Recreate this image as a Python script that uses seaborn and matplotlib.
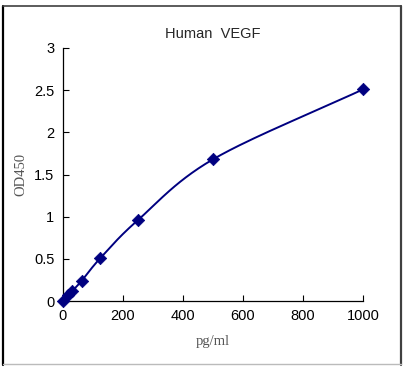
"""Human VEGF standard curve"""
import numpy as np
import pandas as pd
import matplotlib
matplotlib.use('Agg')
import matplotlib.pyplot as plt
import seaborn as sns
from matplotlib.lines import Line2D

concentration = [0, 15.6, 31.25, 62.5, 125, 250, 500, 1000]
od450 = [0.0, 0.07, 0.12, 0.24, 0.51, 0.96, 1.68, 2.51]
x_ticks = [0, 200, 400, 600, 800, 1000]
y_ticks = [0, 0.5, 1, 1.5, 2, 2.5, 3]
y_tick_labels = ['0', '0.5', '1', '1.5', '2', '2.5', '3']

NAVY = '#000080'
W, H = 408, 369


def smooth_curve(x, y, n=30):
    # Catmull-Rom style smoothing, like a spreadsheet "smoothed line"
    x = np.asarray(x, float)
    y = np.asarray(y, float)
    px = np.concatenate([[2 * x[0] - x[1]], x, [2 * x[-1] - x[-2]]])
    py = np.concatenate([[2 * y[0] - y[1]], y, [2 * y[-1] - y[-2]]])
    xs, ys = [], []
    t = np.linspace(0, 1, n)
    for i in range(1, len(px) - 2):
        for arr, out in ((px, xs), (py, ys)):
            p0, p1, p2, p3 = arr[i - 1], arr[i], arr[i + 1], arr[i + 2]
            out.append(0.5 * (2 * p1 + (-p0 + p2) * t
                              + (2 * p0 - 5 * p1 + 4 * p2 - p3) * t ** 2
                              + (-p0 + 3 * p1 - 3 * p2 + p3) * t ** 3))
    return np.concatenate(xs), np.concatenate(ys)


sns.set_style('white')
plt.rcParams['font.family'] = ['Liberation Sans', 'DejaVu Sans']

df = pd.DataFrame({'conc': concentration, 'od': od450})
sx, sy = smooth_curve(concentration, od450)
curve = pd.DataFrame({'conc': sx, 'od': sy})

fig = plt.figure(figsize=(W / 100, H / 100), dpi=100)
ax = fig.add_axes([0.154, 0.184, 0.736, 0.686])

sns.lineplot(data=curve, x='conc', y='od', ax=ax, color=NAVY, linewidth=1.4,
             sort=False, estimator=None)
sns.scatterplot(data=df, x='conc', y='od', ax=ax, color=NAVY, marker='D',
                s=40, edgecolor=NAVY, zorder=5, clip_on=False)

ax.set_xlim(0, 1000)
ax.set_ylim(0, 3)
ax.set_xticks(x_ticks)
ax.set_yticks(y_ticks)
ax.set_yticklabels(y_tick_labels)
ax.tick_params(direction='in', length=4, width=0.8, labelsize=10.5,
               colors='black', pad=6, left=True, bottom=True)
for side in ['top', 'right']:
    ax.spines[side].set_visible(False)
for side in ['left', 'bottom']:
    ax.spines[side].set_color('black')
    ax.spines[side].set_linewidth(0.9)

ax.set_title('Human  VEGF', fontsize=10.5, pad=7)
ax.set_xlabel('pg/ml', family='Liberation Serif', fontsize=10.5, color='#555555',
              labelpad=8)
ax.set_ylabel('OD450', family='Liberation Serif', fontsize=10.5, color='#555555',
              labelpad=5)

# frame around the whole picture
def fig_line(x0, y0, x1, y1, color, lw):
    fig.lines.append(Line2D([x0 / W, x1 / W], [1 - y0 / H, 1 - y1 / H],
                            transform=fig.transFigure, color=color, linewidth=lw))

fig_line(2.5, 5.5, 2.5, 365, 'black', 1.6)
fig_line(2.5, 5.5, 400.5, 5.5, '#404040', 1.2)
fig_line(400.5, 5.5, 400.5, 365, '#404040', 1.6)
fig_line(2.5, 364, 400.5, 364, '#bbbbbb', 1.0)

plt.savefig('out.png', dpi=100)
plt.close()
